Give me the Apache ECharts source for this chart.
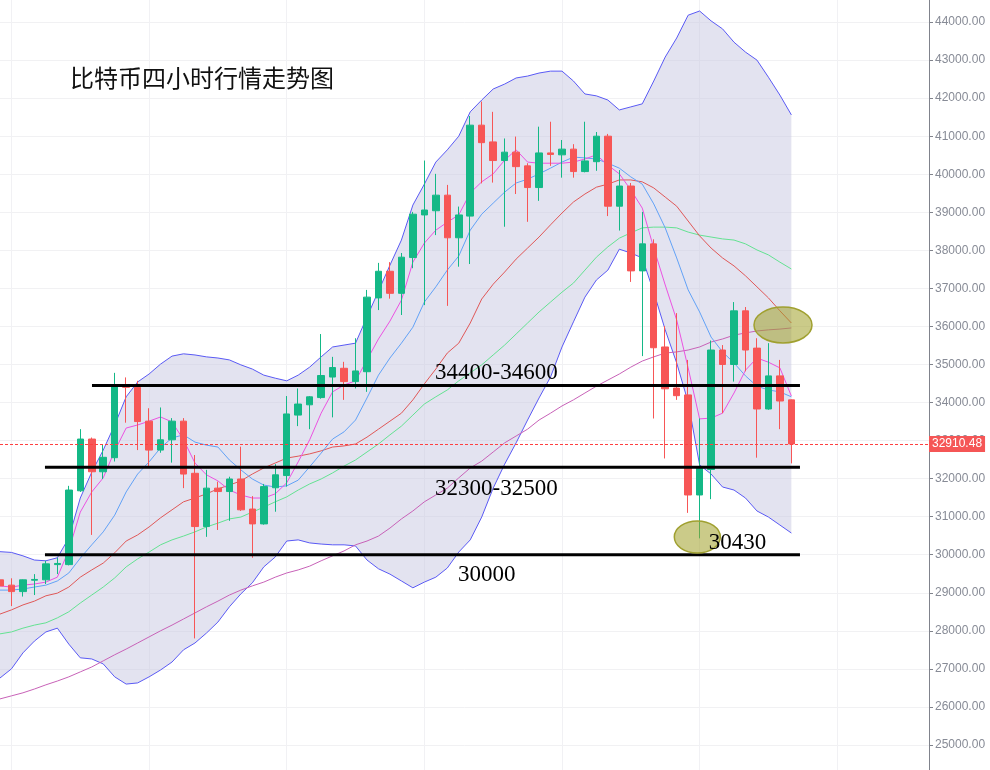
<!DOCTYPE html>
<html><head><meta charset="utf-8">
<script src="https://cdn.jsdelivr.net/npm/echarts@6/dist/echarts.min.js"></script>
<style>html,body{margin:0;padding:0;background:#fff;}#c{width:990px;height:770px;}</style>
</head><body><div id="c"></div>
<script>
const categories = Array.from({length: 82}, (_, i) => 'K' + (i + 1));

const openP = [29340,29200,29030,29330,29340,29740,29740,31680,33040,32180,
  32550,34460,34400,33510,32750,33020,33510,32140,30740,31750,
  31660,31990,31200,30810,31760,32080,33670,33940,34130,34670,
  34900,34550,34810,36750,37450,36870,37810,38930,39040,39450,
  38330,38900,41290,40850,40360,40580,40220,39650,40560,40510,
  40660,40070,40330,41000,39160,39690,37460,38170,35460,34380,
  34200,31570,32240,35380,35000,36410,35430,33830,34700,34070];
const closeP = [29180,29030,29340,29350,29760,29770,31700,33040,32180,32560,
  34460,34400,33500,32750,33020,33510,32120,30740,31750,31660,
  31990,31180,30810,31790,32100,33700,33960,34150,34710,34920,
  34550,34830,36770,37450,36870,37820,38950,39060,39450,38330,
  38930,41290,40830,40360,40580,40200,39650,40560,40520,40660,
  40070,40350,41000,39160,39690,37460,38170,35440,34360,34180,
  31570,32280,35380,35000,36410,35380,33830,34700,34040,32910.48];
const lowP = [29130,28650,28900,28940,29230,29490,29720,31650,30520,31990,
  32450,33470,32750,32330,32680,32420,31750,27800,30470,30650,
  30890,31150,29920,30790,31130,31790,33380,33300,34100,33610,
  34070,34370,34280,36430,36730,36300,37530,36560,38400,36540,
  37570,37640,39760,39780,38620,39480,38750,39300,40220,39910,
  39910,40050,40090,38900,38520,37170,35220,33580,32530,34070,
  31100,30430,31460,33720,34550,34820,32550,33810,33300,32400];
const highP = [29390,29380,29350,29490,29840,29920,31810,33300,33080,32900,
  34780,34660,34570,33850,33870,33590,33590,32620,32230,31920,
  32050,32840,31540,31860,32380,34170,34370,34170,35800,35200,
  35070,35690,36960,37670,37690,37930,39010,40360,40010,39720,
  39150,41530,41910,41640,40940,40990,40290,41250,41380,40900,
  40790,41380,41110,41060,40110,39770,39010,38290,36010,36350,
  35120,33580,35630,35510,36640,36510,35690,35560,35120,34080];

const ma5 = [29180,29150,29200,29230,29280,29410,30120,31120,31650,32020,
  32730,33330,33410,33510,33620,33490,33020,32410,32100,31940,
  31700,31570,31490,31490,31600,31890,32440,33020,33720,34280,
  34460,34570,35120,35670,36140,36690,37690,38190,38530,38740,
  38930,39510,39800,40010,40370,40640,40320,40290,40290,40290,
  40320,40400,40510,40240,40010,39590,39110,38060,37090,36170,
  34910,33570,33590,33720,34250,34850,35170,35060,34910,34170];
const ma10 = [29070,29070,29100,29150,29200,29310,29520,29910,30260,30600,
  31040,31650,32120,32440,32810,33070,33150,32960,32880,32830,
  32490,32230,31990,31830,31780,31810,31960,32310,32670,33040,
  33230,33540,34120,34720,35170,35560,35980,36640,37040,37480,
  37850,38530,38950,39240,39530,39770,39870,40010,40160,40320,
  40450,40430,40400,40290,40160,39930,39740,39220,38590,37800,
  36960,36380,35720,35330,35040,34700,34430,34330,34280,34150];
const bollMid = [28440,28550,28680,28780,28920,28990,29150,29410,29600,29780,
  30050,30360,30520,30730,30970,31180,31390,31490,31600,31730,
  31830,31940,32120,32280,32410,32540,32590,32650,32730,32830,
  32860,32910,33090,33300,33510,33720,34070,34490,34880,35300,
  35560,36090,36720,37110,37430,37770,38060,38350,38670,38980,
  39270,39480,39660,39740,39850,39850,39800,39640,39400,39160,
  38770,38380,38060,37800,37590,37330,37040,36750,36410,36090];
const ma30 = [27920,27970,28070,28150,28210,28340,28500,28730,28940,29150,
  29390,29680,29890,30070,30260,30390,30490,30600,30730,30830,
  30940,30990,31120,31250,31390,31520,31700,31860,31990,32150,
  32330,32490,32700,32910,33150,33380,33670,33960,34150,34330,
  34570,34780,34990,35250,35510,35800,36090,36380,36640,36900,
  37140,37480,37820,38090,38320,38460,38590,38610,38610,38590,
  38480,38400,38350,38300,38270,38170,38010,37880,37690,37510];
const ma60 = [26210,26290,26370,26470,26580,26680,26790,26920,27050,27210,
  27370,27520,27680,27840,28000,28150,28310,28470,28630,28780,
  28940,29070,29180,29280,29410,29520,29600,29700,29840,29970,
  30100,30260,30360,30490,30700,30940,31150,31390,31570,31750,
  32020,32280,32460,32700,32940,33120,33300,33540,33720,33910,
  34070,34250,34430,34590,34750,34930,35090,35200,35300,35330,
  35380,35460,35590,35670,35770,35830,35880,35910,35930,35960];
const bollUpper = [30080,30060,29970,29860,29840,29920,30440,31490,32170,32750,
  33410,34150,34540,34750,35010,35220,35280,35250,35200,35170,
  35120,34990,34880,34720,34640,34570,34720,34930,35200,35460,
  35510,35560,36250,36930,37610,38270,39190,39740,40320,40640,
  41000,41640,41950,42240,42370,42530,42580,42660,42710,42710,
  42450,42110,42060,41950,41690,41770,41850,42450,43080,43580,
  44180,44290,44030,43820,43470,43210,43000,42550,42080,41560];
const bollLower = [26760,27000,27420,27730,27970,28070,27650,27290,27260,27130,
  26790,26600,26630,26790,26970,27180,27500,27680,27940,28230,
  28630,28970,29260,29680,29940,30360,30390,30310,30280,30260,
  30260,30230,29860,29630,29490,29310,29130,29280,29410,29650,
  30070,30390,30990,31750,32380,32940,33540,34120,34670,35460,
  36120,36770,37220,37480,38030,37930,37800,36900,35910,35040,
  34010,32360,32120,31780,31700,31490,31150,30990,30780,30570];

const lastPrice = 32910.48;
const supportLevels = [34450, 32300, 30000];
const levelTexts = ['34400-34600', '32300-32500', '30000'];
const lowMarkText = '30430';
const lowMarkValue = 30430;
const titleText = '比特币四小时行情走势图';

// layout (category-index units for x)
const supportFrom = [8.02, 3.92, 3.92];
const supportTo = 69.75;
const textAnchors = [[37.93, -12], [37.93, 22], [39.93, 20]];
const lowTextAnchor = [61.8, 5];
const ellipses = [[68.27, 36037, 29, 18], [60.8, 30466, 23, 16]];

const candleData = openP.map((o, i) => [o, closeP[i], lowP[i], highP[i]]);
const bandWidth = bollUpper.map((u, i) => u - bollLower[i]);

function lineS(name, data, color) {
  return {name, type: 'line', data, symbol: 'none', silent: true, z: 2,
    lineStyle: {color, width: 1}, animation: false};
}

const supportSeries = supportLevels.map((v, k) => ({
  type: 'line', xAxisIndex: 1, yAxisIndex: 0, symbol: 'none', silent: true, z: 5,
  data: [[supportFrom[k], v], [supportTo, v]],
  lineStyle: {color: '#000', width: 3}
}));

const chart = echarts.init(document.getElementById('c'), null, {renderer: 'canvas'});
chart.setOption({
  animation: false,
  backgroundColor: '#fff',
  title: {text: titleText, left: 70, top: 66, padding: 0,
    textStyle: {fontSize: 24, fontWeight: 'normal', color: '#111', fontFamily: '"Noto Sans CJK SC", sans-serif'}},
  grid: {left: 0, right: 61, top: -16, bottom: -13, outerBoundsMode: 'none', containLabel: false},
  xAxis: [{
    type: 'category', data: categories, boundaryGap: false,
    axisLine: {show: false, onZero: false}, axisTick: {show: false}, axisLabel: {show: false},
    splitLine: {show: true, interval: (i) => i % 12 === 1, lineStyle: {color: '#f1f1f4', width: 1}}
  }, {
    type: 'value', min: 0, max: categories.length - 1, show: false,
    axisLine: {show: false, onZero: false}
  }],
  yAxis: {
    type: 'value', position: 'right', min: 24000, max: 45000, interval: 1000, scale: false,
    axisLine: {show: true, onZero: false, lineStyle: {color: '#80838c', width: 1}},
    axisTick: {show: true, length: 4, lineStyle: {color: '#80838c'}},
    axisLabel: {color: '#878b96', fontSize: 12, margin: 6, fontFamily: '"Liberation Sans", Arial, sans-serif',
      formatter: (v) => v.toFixed(2)},
    splitLine: {show: true, lineStyle: {color: '#f1f1f3', width: 1}}
  },
  series: [
    {type: 'line', data: bollLower, stack: 'boll', symbol: 'none', silent: true, z: 1,
      lineStyle: {opacity: 0}},
    {type: 'line', data: bandWidth, stack: 'boll', symbol: 'none', silent: true, z: 1,
      lineStyle: {opacity: 0}, areaStyle: {color: 'rgba(196,196,224,0.47)', opacity: 1}},
    lineS('upper', bollUpper, '#5a5af5'),
    lineS('lower', bollLower, '#5a5af5'),
    lineS('ma60', ma60, '#c862b8'),
    lineS('ma30', ma30, '#64e292'),
    lineS('mid', bollMid, '#e05858'),
    lineS('ma10', ma10, '#62a2f7'),
    lineS('ma5', ma5, '#ec52e2'),
    {type: 'candlestick', data: candleData, z: 3, barWidth: 7,
      itemStyle: {color: '#14b886', color0: '#f75656', borderColor: '#14b886', borderColor0: '#f75656', borderWidth: 1},
      markLine: {silent: true, symbol: ['none', 'none'], animation: false,
        data: [{yAxis: lastPrice}],
        lineStyle: {color: '#ff4040', type: [3, 2], width: 1},
        label: {show: true, position: 'end', distance: 0, formatter: () => lastPrice.toFixed(2),
          color: '#fff', backgroundColor: '#f55656', padding: [2, 3, 2, 3], fontSize: 12,
          fontFamily: '"Liberation Sans", Arial, sans-serif'}
      }
    },
    ...supportSeries
  ]
});

function px(x, v) { return chart.convertToPixel({xAxisIndex: 1, yAxisIndex: 0}, [x, v]); }
const serif = '"Liberation Serif", "Times New Roman", serif';
const graphics = [];
ellipses.forEach(([x, v, rx, ry]) => {
  const p = px(x, v);
  graphics.push({type: 'ellipse', z: 10, shape: {cx: p[0], cy: p[1], rx, ry},
    style: {fill: 'rgba(160,160,40,0.55)', stroke: '#a0a030', lineWidth: 1.5}});
});
levelTexts.forEach((t, k) => {
  const p = px(textAnchors[k][0], supportLevels[k]);
  graphics.push({type: 'text', z: 11, x: p[0], y: p[1] + textAnchors[k][1],
    style: {text: t, fill: '#000', fontSize: 23, fontFamily: serif, verticalAlign: 'middle', textVerticalAlign: 'middle', align: 'left'}});
});
{
  const p = px(lowTextAnchor[0], lowMarkValue);
  graphics.push({type: 'text', z: 11, x: p[0], y: p[1] + lowTextAnchor[1],
    style: {text: lowMarkText, fill: '#000', fontSize: 23, fontFamily: serif, verticalAlign: 'middle', textVerticalAlign: 'middle', align: 'left'}});
}
chart.setOption({graphic: graphics});
</script></body></html>
